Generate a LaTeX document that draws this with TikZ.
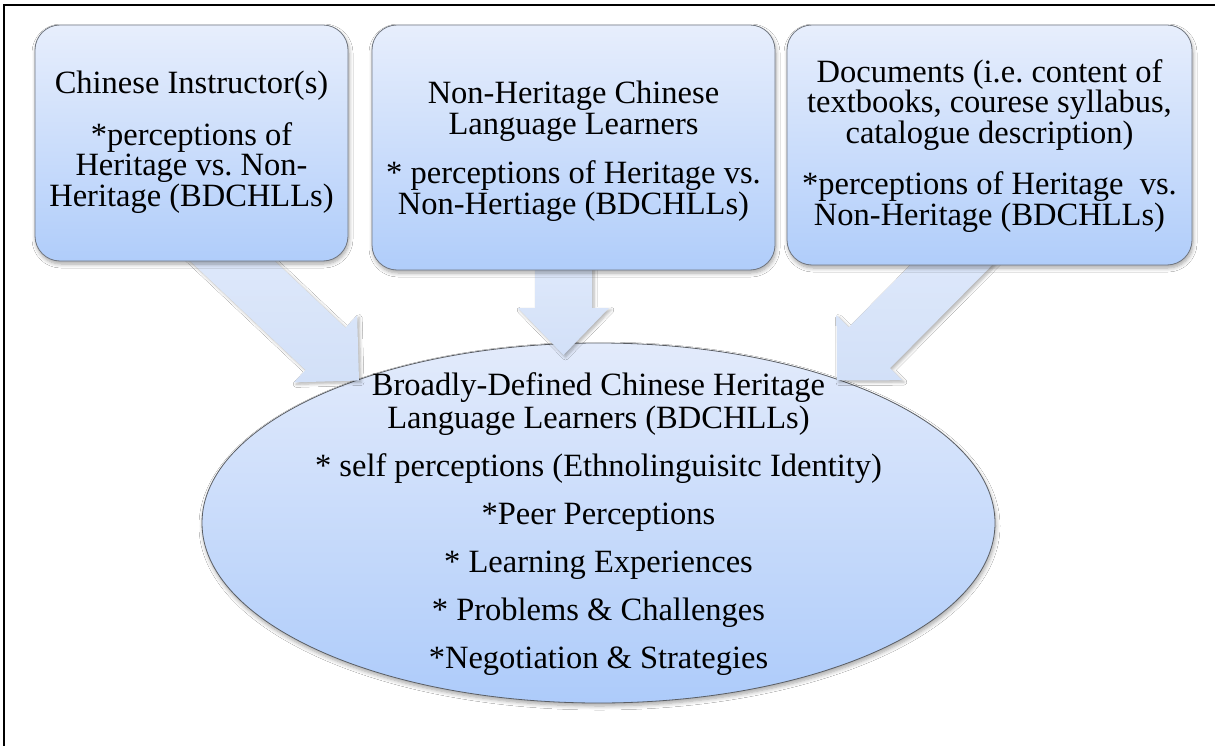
\documentclass[tikz,border=0pt]{standalone}
\usepackage{fontspec}
\setmainfont{Liberation Serif}
\usetikzlibrary{calc,shapes.geometric,shadows.blur}
\frenchspacing

\definecolor{boxtop}{RGB}{231,238,252}
\definecolor{boxbot}{RGB}{176,205,250}
\definecolor{ovtop}{RGB}{227,235,251}
\definecolor{ovbot}{RGB}{173,203,250}
\definecolor{arrtop}{RGB}{226,235,251}
\definecolor{arrbot}{RGB}{210,224,248}
\definecolor{boxedge}{RGB}{112,118,128}
\definecolor{ovedge}{RGB}{90,94,100}

% block arrow: tip, tail, shaft half width, head half width, head length
\newcommand\blockarrow[5]{%
  \coordinate (#1-b) at ($(#1)!#5!(#2)$);
  \path[flowarrow]
    ($(#2)!#3!90:(#1)$) -- ($(#1-b)!#3!90:(#1)$) -- ($(#1-b)!#4!90:(#1)$)
    -- (#1)
    -- ($(#1-b)!#4!-90:(#1)$) -- ($(#1-b)!#3!-90:(#1)$) -- ($(#2)!#3!-90:(#1)$)
    -- cycle;
}

\tikzset{
  boxtxt/.style={font=\fontsize{32.5}{30.5}\selectfont, align=center, text=black},
  ovtxt/.style={font=\fontsize{32.5}{33}\selectfont, align=center, text=black},
  sourcebox/.style={rectangle, rounded corners=25pt, draw=boxedge, line width=0.8pt,
    top color=boxtop, bottom color=boxbot, inner sep=0pt,
    blur shadow={shadow xshift=1pt, shadow yshift=-3pt, shadow blur radius=4pt,
      shadow blur steps=6, shadow opacity=35}},
  coreoval/.style={ellipse, draw=ovedge, line width=0.8pt, inner sep=0pt,
    top color=ovtop, bottom color=ovbot,
    blur shadow={shadow xshift=1pt, shadow yshift=-3pt, shadow blur radius=4pt,
      shadow blur steps=6, shadow opacity=35}},
  flowarrow/.style={top color=arrtop, bottom color=arrbot,
    blur shadow={shadow xshift=2pt, shadow yshift=-2pt, shadow blur radius=3pt,
      shadow blur steps=5, shadow opacity=30}},
  frameline/.style={line width=2pt, black}
}

\begin{document}
\begin{tikzpicture}[x=1pt, y=-1pt]
\useasboundingbox (0,0) rectangle (1215,746);
\fill[white] (0,0) rectangle (1215,746);

% page frame (left and top rules)
\coordinate (fbl) at (4,746);
\coordinate (ftl) at (4,5);
\coordinate (ftr) at (1215,5);
\draw[frameline] (fbl) -- (ftl) -- (ftr);

% central ellipse
\node[coreoval, minimum width=793pt, minimum height=360pt] (core) at (598.5,523) {};

% block arrows from the three sources into the ellipse
\coordinate (a1) at (359,380.5);  \coordinate (a1t) at (199,229.5);
\coordinate (a2) at (563.5,355);  \coordinate (a2t) at (563.5,235);
\coordinate (a3) at (837,380.5);  \coordinate (a3t) at (992,224);
\blockarrow{a1}{a1t}{29pt}{46pt}{46pt}
\blockarrow{a2}{a2t}{28.5pt}{45.5pt}{47pt}
\blockarrow{a3}{a3t}{29pt}{46pt}{46pt}

% source boxes
\node[sourcebox, minimum width=313pt, minimum height=236pt] (src1) at (191.5,143) {};
\node[boxtxt] (src1txt) at (191.5,142)
  {Chinese Instructor(s)\\[21pt]{*}perceptions of\\Heritage vs. Non-\\Heritage (BDCHLLs)};

\node[sourcebox, minimum width=403pt, minimum height=245pt] (src2) at (573.5,147.5) {};
\node[boxtxt] (src2txt) at (573.5,151)
  {Non-Heritage Chinese\\Language Learners\\[19pt]{*} perceptions of Heritage vs.\\Non-Hertiage (BDCHLLs)};

\node[sourcebox, minimum width=405pt, minimum height=240pt] (src3) at (989.5,145) {};
\node[boxtxt] (src3txt) at (989.5,146)
  {Documents (i.e. content of\\textbooks, courese syllabus,\\catalogue description)\\[21pt]{*}perceptions of Heritage\ \ vs.\\Non-Heritage (BDCHLLs)};

% ellipse text
\node[ovtxt] (coretxt) at (598.5,524)
  {Broadly-Defined Chinese Heritage\\Language Learners (BDCHLLs)\\[15pt]
   {*} self perceptions (Ethnolinguisitc Identity)\\[15pt]
   {*}Peer Perceptions\\[15pt]
   {*} Learning Experiences\\[15pt]
   {*} Problems \& Challenges\\[15pt]
   {*}Negotiation \& Strategies};
\end{tikzpicture}
\end{document}
